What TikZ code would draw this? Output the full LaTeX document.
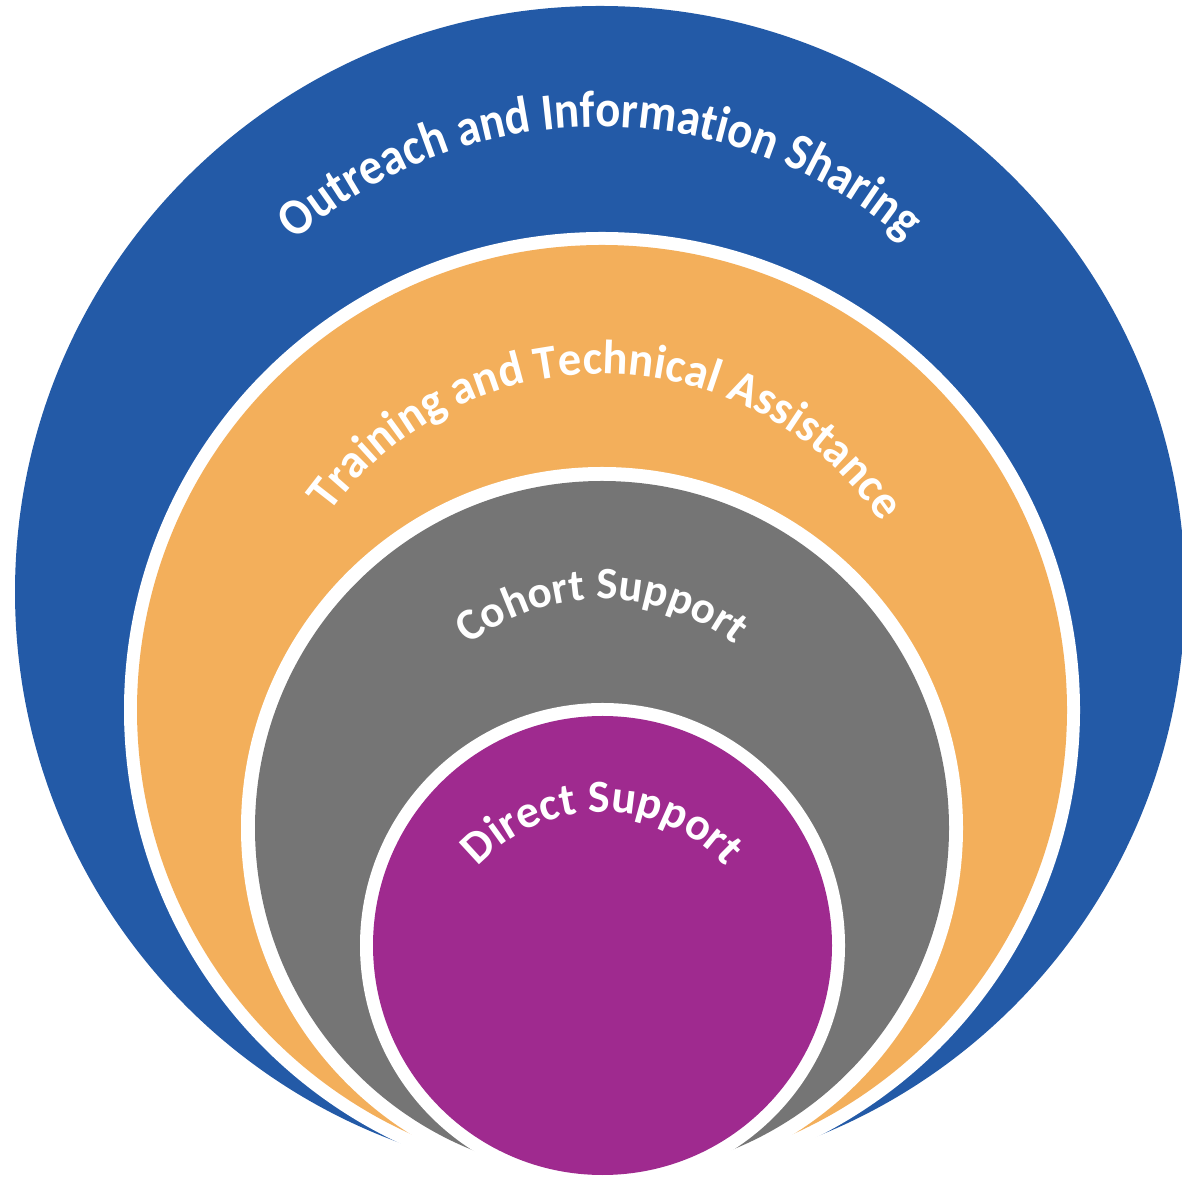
\documentclass[tikz,border=0pt]{standalone}
\usepackage{fontspec}
\setmainfont{Carlito}
\newfontfamily\fOut{Carlito}[FakeStretch=0.90]
\newfontfamily\fTrain{Carlito}[FakeStretch=0.97]
\newfontfamily\fIn{Carlito}
\usetikzlibrary{decorations.text}
\definecolor{ringblue}{RGB}{35,90,167}
\definecolor{ringorange}{RGB}{243,175,91}
\definecolor{ringgray}{RGB}{117,117,117}
\definecolor{ringpurple}{RGB}{159,42,143}
\tikzset{
  arclabel/.style={decorate, decoration={text along path, text align=center, text color=white, text={#1}}}
}
\begin{document}
\begin{tikzpicture}[x=1pt,y=1pt]
\path[use as bounding box] (0,0) rectangle (1182,1177);
\fill[white] (0,0) rectangle (1182,1177);
\clip (0,0) rectangle (1182,1177);
% rings
\fill[ringblue] (600,585) ellipse [x radius=585, y radius=586];
\fill[white] (602,467) circle [radius=478];
\fill[ringorange] (602,467) circle [radius=465];
\fill[white] (602,349) circle [radius=361];
\fill[ringgray] (602,349) circle [radius=347];
\fill[white] (602.5,231.5) circle [radius=242.5];
\fill[ringpurple] (602.5,231.5) circle [radius=229.5];
% curved labels
\path[arclabel={|\fOut\bfseries\fontsize{52}{52}\selectfont|Outreach and Information Sharing}]
  (600,583) ++(150:467) arc[start angle=150, end angle=30, radius=467];
\path[arclabel={|\fTrain\bfseries\fontsize{48}{48}\selectfont|Training and Technical Assistance}]
  (602,467) ++(149:336) arc[start angle=149, end angle=29, radius=336];
\path[arclabel={|\fIn\bfseries\fontsize{45}{45}\selectfont|Cohort Support}]
  (602,362) ++(150:216) arc[start angle=150, end angle=30, radius=216];
\path[arclabel={|\fIn\bfseries\fontsize{46}{46}\selectfont|Direct Support}]
  (602,197.5) ++(150:167.5) arc[start angle=150, end angle=30, radius=167.5];
\end{tikzpicture}
\end{document}
